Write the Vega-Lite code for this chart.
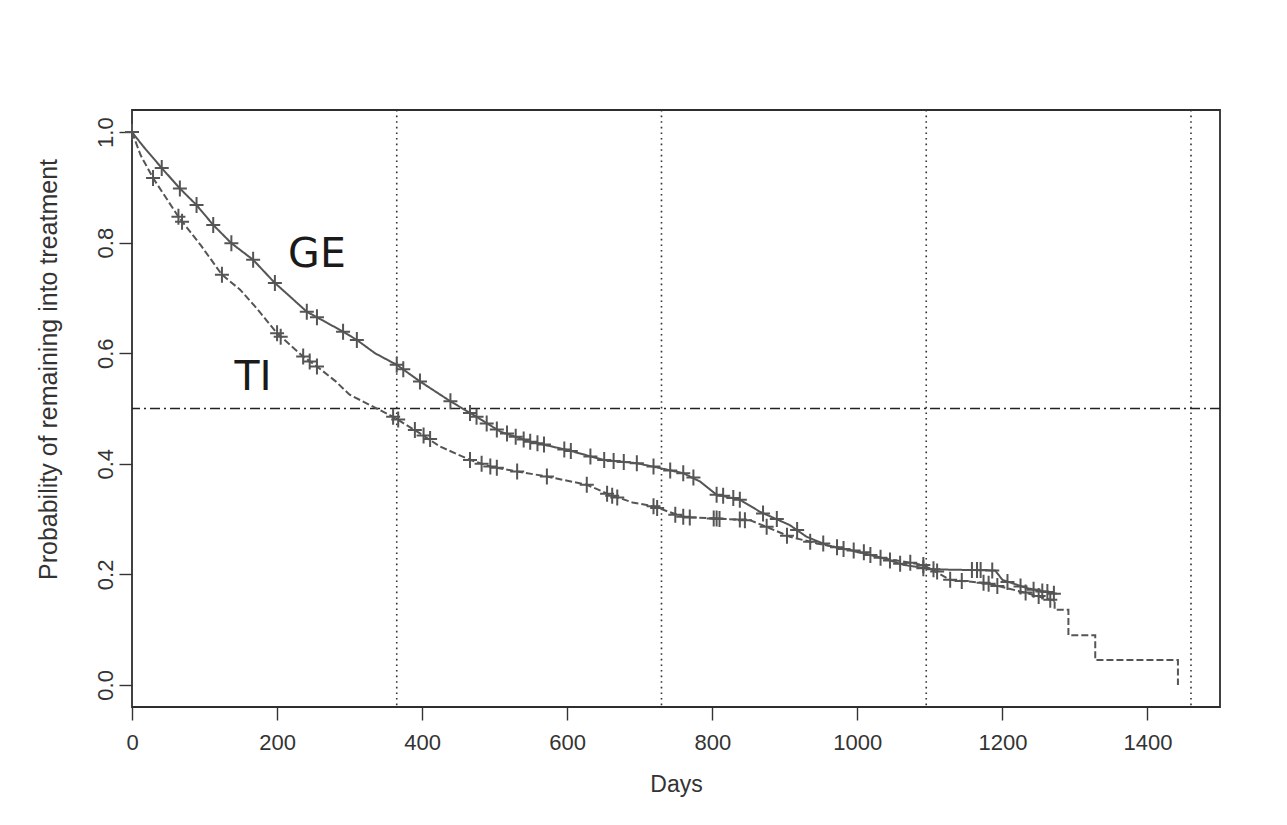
{
  "$schema": "https://vega.github.io/schema/vega-lite/v6.json",
  "width": 1088,
  "height": 597,
  "autosize": {"type": "none"},
  "padding": {"left": 132, "top": 110, "right": 67, "bottom": 118},
  "background": "white",
  "config": {
    "view": {"stroke": "#2e2e2e", "strokeWidth": 1.8},
    "axis": {"grid": false, "domain": false, "tickColor": "#333333", "tickWidth": 1.4, "tickSize": 13, "labelFlush": false,
             "labelFont": "Liberation Sans Narrow, Liberation Sans, Arial", "labelColor": "#333333", "labelFontSize": 22,
             "titleFont": "Liberation Sans Narrow, Liberation Sans, Arial", "titleColor": "#333333", "titleFontSize": 23, "titleFontWeight": "normal"}
  },
  "datasets": {
    "curve": [
      {"group": "GE", "day": 0, "surv": 1.0},
      {"group": "GE", "day": 15, "surv": 0.975},
      {"group": "GE", "day": 41, "surv": 0.935},
      {"group": "GE", "day": 66, "surv": 0.898},
      {"group": "GE", "day": 89, "surv": 0.868},
      {"group": "GE", "day": 112, "surv": 0.832},
      {"group": "GE", "day": 137, "surv": 0.799},
      {"group": "GE", "day": 167, "surv": 0.769},
      {"group": "GE", "day": 197, "surv": 0.727},
      {"group": "GE", "day": 220, "surv": 0.7},
      {"group": "GE", "day": 241, "surv": 0.675},
      {"group": "GE", "day": 262, "surv": 0.66},
      {"group": "GE", "day": 291, "surv": 0.639},
      {"group": "GE", "day": 310, "surv": 0.624},
      {"group": "GE", "day": 335, "surv": 0.6},
      {"group": "GE", "day": 365, "surv": 0.579},
      {"group": "GE", "day": 397, "surv": 0.549},
      {"group": "GE", "day": 439, "surv": 0.513},
      {"group": "GE", "day": 475, "surv": 0.485},
      {"group": "GE", "day": 508, "surv": 0.458},
      {"group": "GE", "day": 549, "surv": 0.44},
      {"group": "GE", "day": 600, "surv": 0.425},
      {"group": "GE", "day": 650, "surv": 0.407},
      {"group": "GE", "day": 696, "surv": 0.401},
      {"group": "GE", "day": 725, "surv": 0.393},
      {"group": "GE", "day": 760, "surv": 0.383},
      {"group": "GE", "day": 783, "surv": 0.368},
      {"group": "GE", "day": 806, "surv": 0.344},
      {"group": "GE", "day": 838, "surv": 0.335},
      {"group": "GE", "day": 866, "surv": 0.313},
      {"group": "GE", "day": 907, "surv": 0.289},
      {"group": "GE", "day": 930, "surv": 0.268},
      {"group": "GE", "day": 960, "surv": 0.252},
      {"group": "GE", "day": 990, "surv": 0.244},
      {"group": "GE", "day": 1036, "surv": 0.229},
      {"group": "GE", "day": 1064, "surv": 0.217},
      {"group": "GE", "day": 1105, "surv": 0.209},
      {"group": "GE", "day": 1190, "surv": 0.207},
      {"group": "GE", "day": 1200, "surv": 0.19},
      {"group": "GE", "day": 1234, "surv": 0.175},
      {"group": "GE", "day": 1262, "surv": 0.168},
      {"group": "GE", "day": 1275, "surv": 0.165},
      {"group": "TI", "day": 0, "surv": 1.0},
      {"group": "TI", "day": 12, "surv": 0.958},
      {"group": "TI", "day": 29, "surv": 0.917},
      {"group": "TI", "day": 64, "surv": 0.847},
      {"group": "TI", "day": 95, "surv": 0.795},
      {"group": "TI", "day": 124, "surv": 0.742},
      {"group": "TI", "day": 149, "surv": 0.715},
      {"group": "TI", "day": 172, "surv": 0.681},
      {"group": "TI", "day": 200, "surv": 0.636},
      {"group": "TI", "day": 236, "surv": 0.594},
      {"group": "TI", "day": 255, "surv": 0.576},
      {"group": "TI", "day": 280, "surv": 0.55},
      {"group": "TI", "day": 300, "surv": 0.525},
      {"group": "TI", "day": 330, "surv": 0.505},
      {"group": "TI", "day": 360, "surv": 0.485},
      {"group": "TI", "day": 397, "surv": 0.455},
      {"group": "TI", "day": 425, "surv": 0.431},
      {"group": "TI", "day": 466, "surv": 0.407},
      {"group": "TI", "day": 494, "surv": 0.395},
      {"group": "TI", "day": 531, "surv": 0.386},
      {"group": "TI", "day": 572, "surv": 0.377},
      {"group": "TI", "day": 627, "surv": 0.362},
      {"group": "TI", "day": 659, "surv": 0.344},
      {"group": "TI", "day": 690, "surv": 0.33},
      {"group": "TI", "day": 719, "surv": 0.323},
      {"group": "TI", "day": 760, "surv": 0.304},
      {"group": "TI", "day": 806, "surv": 0.301},
      {"group": "TI", "day": 852, "surv": 0.298},
      {"group": "TI", "day": 880, "surv": 0.283},
      {"group": "TI", "day": 907, "surv": 0.268},
      {"group": "TI", "day": 944, "surv": 0.256},
      {"group": "TI", "day": 990, "surv": 0.244},
      {"group": "TI", "day": 1036, "surv": 0.229},
      {"group": "TI", "day": 1091, "surv": 0.217},
      {"group": "TI", "day": 1128, "surv": 0.19},
      {"group": "TI", "day": 1179, "surv": 0.184},
      {"group": "TI", "day": 1197, "surv": 0.178},
      {"group": "TI", "day": 1234, "surv": 0.166},
      {"group": "TI", "day": 1266, "surv": 0.154},
      {"group": "TI", "day": 1272, "surv": 0.154},
      {"group": "TI", "day": 1272, "surv": 0.136},
      {"group": "TI", "day": 1291, "surv": 0.136},
      {"group": "TI", "day": 1291, "surv": 0.09},
      {"group": "TI", "day": 1328, "surv": 0.09},
      {"group": "TI", "day": 1328, "surv": 0.045},
      {"group": "TI", "day": 1442, "surv": 0.045},
      {"group": "TI", "day": 1442, "surv": 0.0}
    ],
    "censor": [
      {"group": "GE", "day": 0, "surv": 1.0},
      {"group": "GE", "day": 41, "surv": 0.935},
      {"group": "GE", "day": 66, "surv": 0.898},
      {"group": "GE", "day": 89, "surv": 0.868},
      {"group": "GE", "day": 112, "surv": 0.832},
      {"group": "GE", "day": 137, "surv": 0.799},
      {"group": "GE", "day": 167, "surv": 0.769},
      {"group": "GE", "day": 197, "surv": 0.727},
      {"group": "GE", "day": 241, "surv": 0.675},
      {"group": "GE", "day": 255, "surv": 0.665},
      {"group": "GE", "day": 291, "surv": 0.639},
      {"group": "GE", "day": 310, "surv": 0.624},
      {"group": "GE", "day": 365, "surv": 0.579},
      {"group": "GE", "day": 374, "surv": 0.571},
      {"group": "GE", "day": 397, "surv": 0.549},
      {"group": "GE", "day": 439, "surv": 0.513},
      {"group": "GE", "day": 466, "surv": 0.492},
      {"group": "GE", "day": 475, "surv": 0.485},
      {"group": "GE", "day": 489, "surv": 0.473},
      {"group": "GE", "day": 503, "surv": 0.462},
      {"group": "GE", "day": 517, "surv": 0.455},
      {"group": "GE", "day": 529, "surv": 0.449},
      {"group": "GE", "day": 540, "surv": 0.444},
      {"group": "GE", "day": 549, "surv": 0.44},
      {"group": "GE", "day": 559, "surv": 0.437},
      {"group": "GE", "day": 568, "surv": 0.435},
      {"group": "GE", "day": 596, "surv": 0.426},
      {"group": "GE", "day": 605, "surv": 0.423},
      {"group": "GE", "day": 632, "surv": 0.413},
      {"group": "GE", "day": 651, "surv": 0.407},
      {"group": "GE", "day": 664, "surv": 0.405},
      {"group": "GE", "day": 678, "surv": 0.403},
      {"group": "GE", "day": 696, "surv": 0.401},
      {"group": "GE", "day": 719, "surv": 0.395},
      {"group": "GE", "day": 742, "surv": 0.388},
      {"group": "GE", "day": 760, "surv": 0.383},
      {"group": "GE", "day": 774, "surv": 0.375},
      {"group": "GE", "day": 806, "surv": 0.344},
      {"group": "GE", "day": 815, "surv": 0.342},
      {"group": "GE", "day": 829, "surv": 0.338},
      {"group": "GE", "day": 838, "surv": 0.335},
      {"group": "GE", "day": 870, "surv": 0.31},
      {"group": "GE", "day": 889, "surv": 0.3},
      {"group": "GE", "day": 917, "surv": 0.28},
      {"group": "GE", "day": 953, "surv": 0.256},
      {"group": "GE", "day": 981, "surv": 0.246},
      {"group": "GE", "day": 1009, "surv": 0.24},
      {"group": "GE", "day": 1032, "surv": 0.23},
      {"group": "GE", "day": 1059, "surv": 0.219},
      {"group": "GE", "day": 1091, "surv": 0.211},
      {"group": "GE", "day": 1105, "surv": 0.209},
      {"group": "GE", "day": 1158, "surv": 0.208},
      {"group": "GE", "day": 1165, "surv": 0.208},
      {"group": "GE", "day": 1170, "surv": 0.208},
      {"group": "GE", "day": 1186, "surv": 0.207},
      {"group": "GE", "day": 1207, "surv": 0.186},
      {"group": "GE", "day": 1225, "surv": 0.178},
      {"group": "GE", "day": 1243, "surv": 0.172},
      {"group": "GE", "day": 1255, "surv": 0.169},
      {"group": "GE", "day": 1262, "surv": 0.168},
      {"group": "GE", "day": 1271, "surv": 0.165},
      {"group": "TI", "day": 29, "surv": 0.917},
      {"group": "TI", "day": 64, "surv": 0.847},
      {"group": "TI", "day": 69, "surv": 0.838},
      {"group": "TI", "day": 124, "surv": 0.742},
      {"group": "TI", "day": 200, "surv": 0.636},
      {"group": "TI", "day": 205, "surv": 0.63},
      {"group": "TI", "day": 236, "surv": 0.594},
      {"group": "TI", "day": 245, "surv": 0.585},
      {"group": "TI", "day": 255, "surv": 0.576},
      {"group": "TI", "day": 360, "surv": 0.485},
      {"group": "TI", "day": 367, "surv": 0.48},
      {"group": "TI", "day": 390, "surv": 0.461},
      {"group": "TI", "day": 402, "surv": 0.451},
      {"group": "TI", "day": 411, "surv": 0.445},
      {"group": "TI", "day": 466, "surv": 0.407},
      {"group": "TI", "day": 482, "surv": 0.4},
      {"group": "TI", "day": 494, "surv": 0.395},
      {"group": "TI", "day": 503, "surv": 0.393},
      {"group": "TI", "day": 531, "surv": 0.386},
      {"group": "TI", "day": 572, "surv": 0.377},
      {"group": "TI", "day": 627, "surv": 0.362},
      {"group": "TI", "day": 655, "surv": 0.346},
      {"group": "TI", "day": 662, "surv": 0.342},
      {"group": "TI", "day": 669, "surv": 0.339},
      {"group": "TI", "day": 719, "surv": 0.323},
      {"group": "TI", "day": 724, "surv": 0.32},
      {"group": "TI", "day": 749, "surv": 0.308},
      {"group": "TI", "day": 760, "surv": 0.304},
      {"group": "TI", "day": 769, "surv": 0.303},
      {"group": "TI", "day": 802, "surv": 0.301},
      {"group": "TI", "day": 806, "surv": 0.301},
      {"group": "TI", "day": 810, "surv": 0.3},
      {"group": "TI", "day": 838, "surv": 0.299},
      {"group": "TI", "day": 845, "surv": 0.298},
      {"group": "TI", "day": 875, "surv": 0.286},
      {"group": "TI", "day": 903, "surv": 0.27},
      {"group": "TI", "day": 935, "surv": 0.259},
      {"group": "TI", "day": 972, "surv": 0.249},
      {"group": "TI", "day": 995, "surv": 0.243},
      {"group": "TI", "day": 1018, "surv": 0.235},
      {"group": "TI", "day": 1045, "surv": 0.225},
      {"group": "TI", "day": 1073, "surv": 0.221},
      {"group": "TI", "day": 1091, "surv": 0.217},
      {"group": "TI", "day": 1110, "surv": 0.205},
      {"group": "TI", "day": 1128, "surv": 0.19},
      {"group": "TI", "day": 1144, "surv": 0.188},
      {"group": "TI", "day": 1174, "surv": 0.185},
      {"group": "TI", "day": 1181, "surv": 0.183},
      {"group": "TI", "day": 1193, "surv": 0.179},
      {"group": "TI", "day": 1232, "surv": 0.167},
      {"group": "TI", "day": 1250, "surv": 0.161},
      {"group": "TI", "day": 1266, "surv": 0.154}
    ],
    "years": [{"day": 365}, {"day": 730}, {"day": 1095}, {"day": 1460}],
    "labels": [
      {"label": "GE", "day": 255, "surv": 0.756},
      {"label": "TI", "day": 167, "surv": 0.534}
    ]
  },
  "layer": [
    {
      "data": {"name": "years"},
      "mark": {"type": "rule", "color": "#333333", "strokeWidth": 1.6, "strokeDash": [1.6, 4]},
      "encoding": {
        "x": {"field": "day", "type": "quantitative",
              "scale": {"domain": [0, 1500], "nice": false, "zero": false},
              "axis": {"values": [0, 200, 400, 600, 800, 1000, 1200, 1400], "format": "d", "title": "Days", "labelPadding": 12, "titlePadding": 20}}
      }
    },
    {
      "data": {"values": [{"p": 0.5}]},
      "mark": {"type": "rule", "color": "#222222", "strokeWidth": 1.4, "strokeDash": [10, 4, 2, 4]},
      "encoding": {
        "y": {"field": "p", "type": "quantitative"}
      }
    },
    {
      "data": {"name": "curve"},
      "mark": {"type": "line", "color": "#555555", "strokeWidth": 2, "interpolate": "linear"},
      "encoding": {
        "x": {"field": "day", "type": "quantitative"},
        "y": {"field": "surv", "type": "quantitative",
              "scale": {"domain": [-0.04, 1.04], "nice": false, "zero": false},
              "axis": {"values": [0, 0.2, 0.4, 0.6, 0.8, 1.0], "format": ".1f", "labelAngle": 270, "labelAlign": "center", "labelBaseline": "bottom", "labelPadding": 2,
                       "title": "Probability of remaining into treatment", "titleFontSize": 25, "titlePadding": 33, "titleY": 259}},
        "detail": {"field": "group"},
        "strokeDash": {"field": "group", "type": "nominal", "scale": {"domain": ["GE", "TI"], "range": [[1, 0], [7, 3]]}, "legend": null}
      }
    },
    {
      "data": {"name": "censor"},
      "mark": {"type": "point", "shape": "M-0.875,0H0.875M0,-1V1", "size": 256, "filled": false, "color": "#555555", "strokeWidth": 2, "opacity": 1},
      "encoding": {
        "x": {"field": "day", "type": "quantitative"},
        "y": {"field": "surv", "type": "quantitative"}
      }
    },
    {
      "data": {"name": "labels"},
      "mark": {"type": "text", "font": "DejaVu Sans", "fontSize": 41, "color": "#1a1a1a", "align": "center", "baseline": "alphabetic"},
      "encoding": {
        "x": {"field": "day", "type": "quantitative"},
        "y": {"field": "surv", "type": "quantitative"},
        "text": {"field": "label"}
      }
    }
  ]
}
